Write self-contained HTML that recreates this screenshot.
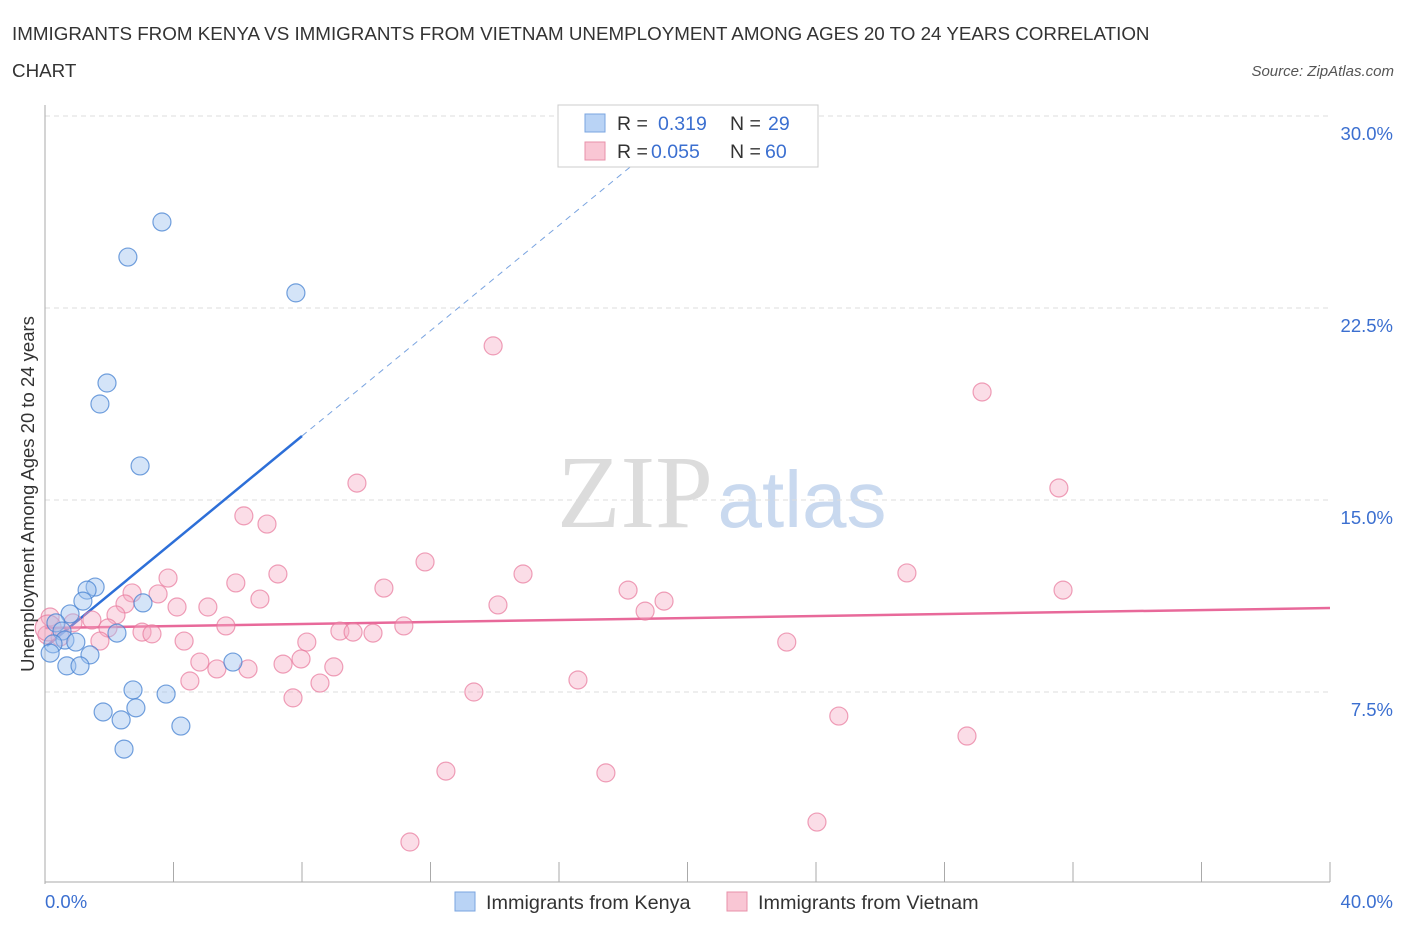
<!DOCTYPE html>
<html><head><meta charset="utf-8"><style>
body{margin:0;background:#fff;font-family:"Liberation Sans",sans-serif;}
svg text{font-family:"Liberation Sans",sans-serif;}
</style></head><body>
<svg id="chart" width="1406" height="930" xmlns="http://www.w3.org/2000/svg">
<text x="12" y="40" font-size="18.8" fill="#333">IMMIGRANTS FROM KENYA VS IMMIGRANTS FROM VIETNAM UNEMPLOYMENT AMONG AGES 20 TO 24 YEARS CORRELATION</text>
<text x="12" y="77" font-size="18.8" fill="#333">CHART</text>
<text x="1394" y="76" font-size="15" fill="#555" text-anchor="end" font-style="italic">Source: ZipAtlas.com</text>
<g>
<text x="635" y="527" font-size="104" fill="#dcdcdc" style="font-family:'Liberation Serif',serif" text-anchor="middle">ZIP</text>
<text x="802" y="527" font-size="80" fill="#c9d9ef" text-anchor="middle">atlas</text>
</g>
<g id="grid"></g>
<g id="axes"></g>
<g id="trends"></g>
<g id="points"></g>
<g>
<rect x="558" y="105" width="260" height="62" fill="#fff" stroke="#ccc"/>
<rect x="585" y="114" width="20" height="18" fill="#b9d3f5" stroke="#7aa4e0"/>
<text x="617" y="130" font-size="19.5" fill="#333">R =</text>
<text x="658" y="130" font-size="19.5" fill="#3b6fd0">0.319</text>
<text x="730" y="130" font-size="19.5" fill="#333">N =</text>
<text x="768" y="130" font-size="19.5" fill="#3b6fd0">29</text>
<rect x="585" y="142" width="20" height="18" fill="#f9c6d4" stroke="#e890aa"/>
<text x="617" y="158" font-size="19.5" fill="#333">R =</text>
<text x="651" y="158" font-size="19.5" fill="#3b6fd0">0.055</text>
<text x="730" y="158" font-size="19.5" fill="#333">N =</text>
<text x="765" y="158" font-size="19.5" fill="#3b6fd0">60</text>
</g>
<g>
<rect x="455" y="892" width="20" height="19" fill="#b9d3f5" stroke="#7aa4e0"/>
<text x="486" y="909" font-size="19.8" fill="#333">Immigrants from Kenya</text>
<rect x="727" y="892" width="20" height="19" fill="#f9c6d4" stroke="#e890aa"/>
<text x="758" y="909" font-size="19.8" fill="#333">Immigrants from Vietnam</text>
</g>
<text transform="translate(34,494) rotate(-90)" font-size="18.5" fill="#333" text-anchor="middle">Unemployment Among Ages 20 to 24 years</text>
</svg>
<script>
const kenyaX=[3.64,2.58,7.81,1.93,1.71,2.96,1.56,1.31,1.18,3.05,0.78,0.34,0.53,2.24,0.62,0.96,0.25,1.40,0.16,0.68,1.09,5.85,2.74,3.77,1.81,2.83,2.37,4.23,2.46];
const kenyaY=[25.86,24.49,23.09,19.57,18.75,16.33,11.60,11.48,11.05,10.98,10.55,10.20,9.88,9.80,9.53,9.45,9.38,8.95,9.02,8.52,8.52,8.67,7.58,7.42,6.72,6.88,6.41,6.17,5.27];
const vietX=[13.95,29.17,31.56,9.71,6.19,6.91,11.83,14.88,26.83,3.83,7.25,5.94,10.55,18.15,31.69,3.52,2.71,6.69,19.27,2.49,5.07,4.11,14.10,18.68,2.21,1.46,0.16,0.87,5.63,11.17,1.96,3.02,3.33,9.18,9.59,10.21,0.06,0.47,1.71,4.33,8.15,23.09,4.82,7.97,7.41,8.99,5.35,6.32,4.51,8.56,16.59,13.35,7.72,24.71,28.70,12.48,17.46,24.03,11.36,0.1];
const vietY=[21.02,19.22,15.47,15.66,14.38,14.06,12.58,12.11,12.15,11.95,12.11,11.76,11.56,11.48,11.48,11.33,11.37,11.13,11.05,10.94,10.82,10.82,10.90,10.66,10.51,10.31,10.43,10.20,10.08,10.08,10.00,9.84,9.77,9.88,9.84,9.80,9.73,9.65,9.49,9.49,9.45,9.45,8.67,8.79,8.59,8.48,8.40,8.40,7.93,7.85,7.97,7.50,7.27,6.56,5.78,4.41,4.34,2.42,1.64,10.0];
const yTicks=[7.5,15,22.5,30];
const yTickLabels=["7.5%","15.0%","22.5%","30.0%"];
const xTicks=[0,4,8,12,16,20,24,28,32,36,40];
const kenyaTrend=[[0.06,9.30],[8.0,17.5],[18.5,28.3]];
const vietTrend=[[0,10.0],[40,10.78]];
const NS="http://www.w3.org/2000/svg";
function sx(v){return 45+v/40*1285;}
function sy(v){return 884-v/7.5*192;}
function mk(tag,attrs,parent){const e=document.createElementNS(NS,tag);for(const k in attrs)e.setAttribute(k,attrs[k]);document.getElementById(parent).appendChild(e);return e;}
yTicks.forEach((t,i)=>{
 const g=mk('line',{x1:45,x2:1330,y1:sy(t),y2:sy(t),stroke:'#ddd','stroke-dasharray':'5,4'},'grid');
 
 
 const l=mk('text',{x:1393,y:sy(t)+24,'font-size':18.5,fill:'#3b6fd0','text-anchor':'end'},'grid');
 l.textContent=yTickLabels[i];
 
 
});
const ya=mk('line',{x1:45,x2:45,y1:105,y2:884,stroke:'#aaa'},'axes');


const xa=mk('line',{x1:45,x2:1330,y1:882,y2:882,stroke:'#aaa'},'axes');


xTicks.forEach(t=>{
 const e=mk('line',{x1:sx(t),x2:sx(t),y1:862,y2:882,stroke:'#aaa'},'axes');
 
 
});
const x0=mk('text',{x:45,y:908,'font-size':18.5,fill:'#3b6fd0'},'axes');x0.textContent='0.0%';


const x1=mk('text',{x:1393,y:908,'font-size':18.5,fill:'#3b6fd0','text-anchor':'end'},'axes');x1.textContent='40.0%';


vietX.forEach((v,i)=>{
 const c=mk('circle',{cx:sx(v),cy:sy(vietY[i]),r:i==vietX.length-1?13:9,fill:'rgba(246,170,194,0.4)',stroke:'rgba(232,120,155,0.7)','stroke-width':1.2},'points');
 
 
});
kenyaX.forEach((v,i)=>{
 const c=mk('circle',{cx:sx(v),cy:sy(kenyaY[i]),r:9,fill:'rgba(160,196,240,0.45)',stroke:'rgba(70,130,210,0.75)','stroke-width':1.2},'points');
 
 
});
const ks=mk('line',{x1:sx(kenyaTrend[0][0]),y1:sy(kenyaTrend[0][1]),x2:sx(kenyaTrend[1][0]),y2:sy(kenyaTrend[1][1]),stroke:'#2d6fd8','stroke-width':2.5},'trends');


const kd=mk('line',{x1:sx(kenyaTrend[1][0]),y1:sy(kenyaTrend[1][1]),x2:sx(kenyaTrend[2][0]),y2:sy(kenyaTrend[2][1]),stroke:'#7aa4e0','stroke-width':1,'stroke-dasharray':'6,5'},'trends');


const vt=mk('line',{x1:sx(vietTrend[0][0]),y1:sy(vietTrend[0][1]),x2:sx(vietTrend[1][0]),y2:sy(vietTrend[1][1]),stroke:'#e8699a','stroke-width':2.5},'trends');


</script>
</body></html>
